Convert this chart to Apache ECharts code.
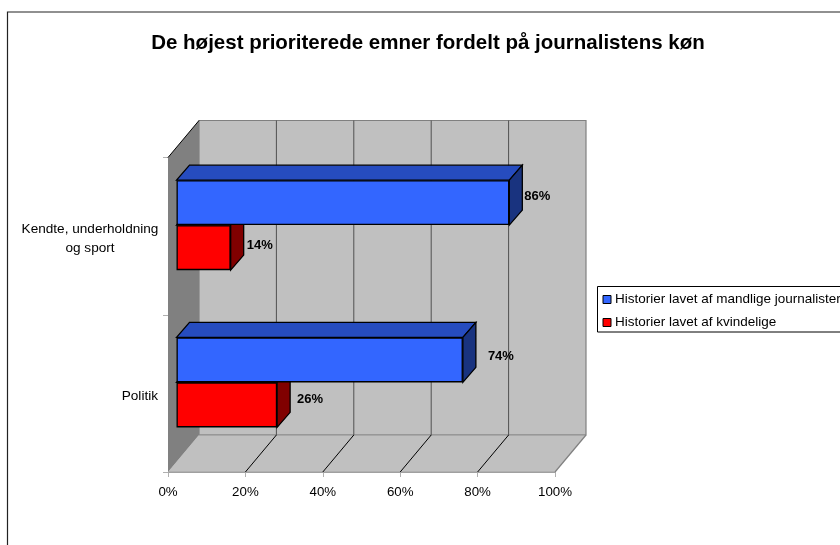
<!DOCTYPE html>
<html><head><meta charset="utf-8">
<style>html,body{margin:0;padding:0;background:#fff;overflow:hidden}#c{width:840px;height:545px}</style>
<script src="https://cdn.jsdelivr.net/npm/echarts@6/dist/echarts.min.js"></script>
</head><body><div id="c"></div>
<script>
var categories = ["Kendte, underholdning og sport", "Politik"];
var maleValues = [86, 74];
var femaleValues = [14, 26];
var xTicks = [0, 20, 40, 60, 80, 100];
var maleName = "Historier lavet af mandlige journalister";
var femaleName = "Historier lavet af kvindelige";
var titleText = "De højest prioriterede emner fordelt på journalistens køn";

var FONT = '"Liberation Sans", Arial, sans-serif';
var WALL = [31, -37];     // depth of the chart box
var BAR_D = [13, -15];    // depth of one bar
var THICK = 45;
var chart = echarts.init(document.getElementById('c'), null, {renderer: 'canvas'});

function poly(pts, fill, stroke, w) {
  return {type: 'polygon', shape: {points: pts}, style: {fill: fill, stroke: stroke || null, lineWidth: w || 1}};
}
function line(a, b, color, w) {
  return {type: 'line', shape: {x1: a[0], y1: a[1], x2: b[0], y2: b[1]}, style: {stroke: color, lineWidth: w || 1}};
}
function wallsRender(params, api) {
  var cs = params.coordSys;
  var l = cs.x, t = cs.y, r = cs.x + cs.width, b = cs.y + cs.height;
  var dx = WALL[0], dy = WALL[1];
  return {type: 'group', children: [
    poly([[l + dx, t + dy], [r + dx, t + dy], [r + dx, b + dy], [l + dx, b + dy]], '#C0C0C0', '#808080', 1.2),
    poly([[l, b], [l + dx, b + dy], [r + dx, b + dy], [r, b]], '#C0C0C0', null),
    line([l + dx, b + dy], [r + dx, b + dy], '#909090', 1.2),
    line([r + dx, b + dy], [r, b], '#808080', 1.2),
    line([l, b], [r, b], '#A0A0A0', 1.2),
    poly([[l, t], [l + dx, t + dy], [l + dx, b + dy], [l, b]], '#808080', null),
    line([l, t], [l + dx, t + dy], '#000', 1)
  ]};
}
function gridRender(params, api) {
  var p = api.coord([api.value(0), 0]);
  var cs = params.coordSys;
  var b = cs.y + cs.height, x = p[0];
  var kids = [];
  if (api.value(0) > 0 && api.value(0) < 100) {
    kids.push(line([x + WALL[0], cs.y + WALL[1]], [x + WALL[0], b + WALL[1]], '#505050', 1));
    kids.push(line([x, b], [x + WALL[0], b + WALL[1]], '#000', 1));
  }
  return {type: 'group', children: kids};
}
function facesRender(pos, topColor, sideColor) {
  return function (params, api) {
    var c = api.coord([api.value(0), api.value(1)]);
    var start = api.coord([0, api.value(1)]);
    var y0 = c[1] + (pos < 0 ? -THICK : 0), y1 = y0 + THICK, x = c[0];
    var dx = BAR_D[0], dy = BAR_D[1];
    return {type: 'group', children: [
      poly([[start[0], y0], [start[0] + dx, y0 + dy], [x + dx, y0 + dy], [x, y0]], topColor, '#000', 1.3),
      poly([[x, y0], [x + dx, y0 + dy], [x + dx, y1 + dy], [x, y1]], sideColor, '#000', 1.3)
    ]};
  };
}
function facePoints(values) {
  return values.map(function (v, i) { return [v, i]; });
}
// label nudges [dx, dy] relative to the bar end
var maleNudge = [[15, -6], [25, -3]];
var femaleNudge = [[16, -2], [20, -5]];
function barData(values, nudges) {
  return values.map(function (v, i) {
    return {value: v, label: {offset: nudges[i]}};
  });
}
var barLabel = {show: true, position: 'right', distance: 0, formatter: '{c}%', color: '#000',
  fontFamily: FONT, fontWeight: 'bold', fontSize: 13};

var option = {
  animation: false,
  backgroundColor: '#fff',
  title: {text: titleText, left: 423, top: 28, textAlign: 'center',
    textStyle: {fontFamily: FONT, fontWeight: 'bold', fontSize: 20.5, color: '#000'}},
  graphic: [{type: 'rect', z: -10, shape: {x: 7.5, y: 12, width: 900, height: 600},
    style: {fill: '#fff', stroke: '#222', lineWidth: 1.2}}],
  legend: {
    data: [maleName, femaleName], orient: 'vertical', left: 597.5, top: 286.5,
    icon: 'rect', itemWidth: 8, itemHeight: 8, itemGap: 9, padding: [6, 6, 2.5, 5],
    selectedMode: false, borderColor: '#000', borderWidth: 1, backgroundColor: '#fff',
    textStyle: {fontFamily: FONT, fontSize: 13.5, color: '#000', padding: [0, 0, 0, -1]},
    itemStyle: {borderColor: '#000', borderWidth: 1}
  },
  grid: [
    {left: 168, top: 157.5, width: 387, height: 314.5},
    {left: 176.5, top: 146.5, width: 387, height: 314.5}
  ],
  xAxis: [
    {type: 'value', gridIndex: 0, min: 0, max: 100, interval: 20,
      axisLine: {show: true, lineStyle: {color: '#A0A0A0'}},
      axisTick: {show: true, length: 5, lineStyle: {color: '#B0B0B0'}},
      splitLine: {show: false},
      axisLabel: {formatter: '{value}%', fontFamily: FONT, fontSize: 13.3, color: '#000', margin: 14}},
    {type: 'value', gridIndex: 1, min: 0, max: 100, show: false, splitLine: {show: false}}
  ],
  yAxis: [
    {type: 'category', gridIndex: 0, data: categories, inverse: true,
      axisLine: {show: false},
      axisTick: {show: true, length: 5, lineStyle: {color: '#B0B0B0'}},
      axisLabel: {margin: 8, fontFamily: FONT, fontSize: 13.6, color: '#000', lineHeight: 19, padding: [5, 0, 0, 0],
        formatter: function (v) {
          return v === categories[0] ? '{c|Kendte, underholdning}\n{c|og sport}' : '{p|' + v + '}';
        },
        rich: {
          c: {width: 140, align: 'center', fontFamily: FONT, fontSize: 13.6, color: '#000', lineHeight: 19},
          p: {padding: [0, 2, 0, 0], fontFamily: FONT, fontSize: 13.6, color: '#000', lineHeight: 19}
        }}},
    {type: 'category', gridIndex: 1, data: categories, inverse: true, show: false}
  ],
  series: [
    {name: 'walls', type: 'custom', xAxisIndex: 0, yAxisIndex: 0, z: 1, silent: true,
      data: [[0, 0]], renderItem: wallsRender, clip: false},
    {name: 'gridlines', type: 'custom', xAxisIndex: 0, yAxisIndex: 0, z: 2, silent: true,
      data: xTicks.map(function (t) { return [t, 0]; }), renderItem: gridRender, clip: false},
    {name: maleName, type: 'bar', xAxisIndex: 1, yAxisIndex: 1, z: 6, barWidth: THICK, barGap: '0%',
      data: barData(maleValues, maleNudge), label: barLabel,
      itemStyle: {color: '#3366FF', borderColor: '#000', borderWidth: 1.3}},
    {name: femaleName, type: 'bar', xAxisIndex: 1, yAxisIndex: 1, z: 4, barWidth: THICK, barGap: '0%',
      data: barData(femaleValues, femaleNudge), label: barLabel,
      itemStyle: {color: '#FF0000', borderColor: '#000', borderWidth: 1.3}},
    {name: 'femaleFaces', type: 'custom', xAxisIndex: 1, yAxisIndex: 1, z: 3, silent: true, clip: false,
      data: facePoints(femaleValues), renderItem: facesRender(1, '#990000', '#800000')},
    {name: 'maleFaces', type: 'custom', xAxisIndex: 1, yAxisIndex: 1, z: 5, silent: true, clip: false,
      data: facePoints(maleValues), renderItem: facesRender(-1, '#264CBF', '#19337F')}
  ]
};
chart.setOption(option);
</script></body></html>
